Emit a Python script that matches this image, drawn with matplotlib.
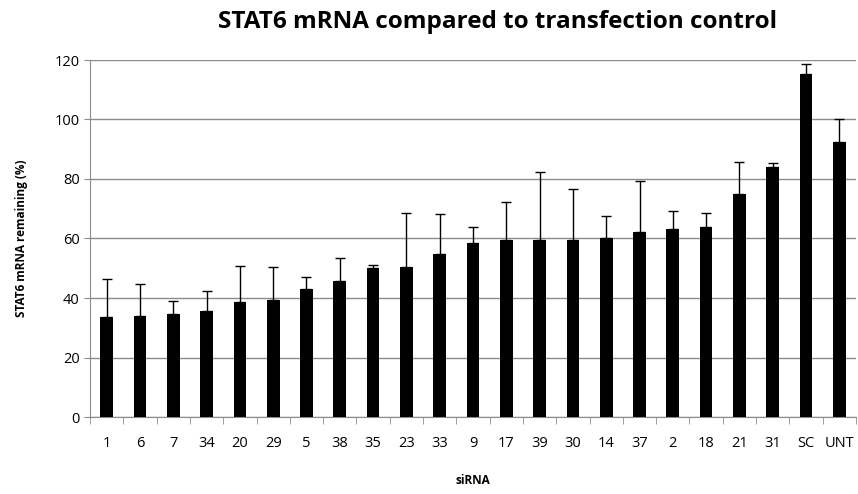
import numpy as np
from matplotlib import pyplot

# siRNA labels and STAT6 mRNA remaining (%), with upper error
labels = ['1', '6', '7', '34', '20', '29', '5', '38', '35', '23', '33', '9',
          '17', '39', '30', '14', '37', '2', '18', '21', '31', 'SC', 'UNT']
values = [33.5, 34.0, 34.5, 35.5, 38.7, 39.2, 43.0, 45.8, 50.0, 50.5, 54.7, 58.5,
          59.5, 59.5, 59.5, 60.0, 62.2, 63.2, 64.0, 75.0, 84.0, 115.2, 92.5]
err_top = [46.5, 44.7, 39.0, 42.3, 50.8, 50.3, 47.0, 53.5, 51.2, 68.7, 68.2, 64.0,
           72.4, 82.5, 76.7, 67.7, 79.2, 69.2, 68.7, 85.8, 85.3, 118.8, 100.0]

errors = [t - v for t, v in zip(err_top, values)]
x = np.arange(len(labels))

pyplot.rcParams['font.family'] = ['Open Sans', 'DejaVu Sans']

fig = pyplot.figure(figsize=(8.58, 4.94), dpi=100)
ax = fig.add_axes([90/858, 77/494, 766/858, 357/494])

ax.bar(x, values, width=0.38, color='black', zorder=3)
ax.errorbar(x, values, yerr=[np.zeros(len(x)), errors], fmt='none',
            ecolor='black', elinewidth=1, capsize=3.5, capthick=1, zorder=4)

ax.set_xlim(-0.5, len(labels) - 0.5)
ax.set_ylim(0, 120)
ax.set_yticks(range(0, 121, 20))
ax.yaxis.grid(True, color='#8c8c8c', lw=1, zorder=0)

ax.set_xticks(x)
ax.set_xticklabels(labels, fontsize=10.5)
ax.set_xticks(np.arange(-0.5, len(labels)), minor=True)
ax.tick_params(axis='x', which='major', length=0, pad=14)
ax.tick_params(axis='x', which='minor', length=5, color='#8c8c8c', direction='out')
ax.tick_params(axis='y', length=4, color='#8c8c8c', labelsize=10.5)

for s in ['top', 'right']:
    ax.spines[s].set_visible(False)
for s in ['left', 'bottom']:
    ax.spines[s].set_color('#8c8c8c')

ax.set_xlabel('siRNA', fontsize=8.5, fontweight='bold', labelpad=16)
ax.set_ylabel('STAT6 mRNA remaining (%)', fontsize=8.5, fontweight='bold', labelpad=19)
fig.suptitle('STAT6 mRNA compared to transfection control', fontsize=17.5,
             fontweight='bold', x=0.58, y=0.98)

fig.savefig('out.png')
